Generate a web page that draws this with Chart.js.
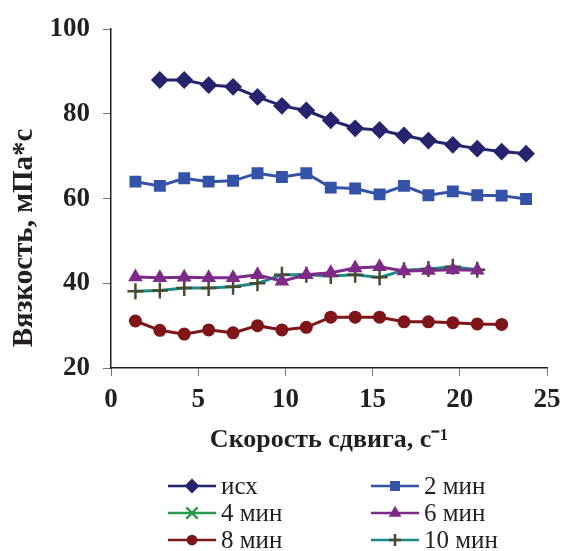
<!DOCTYPE html>
<html>
<head>
<meta charset="utf-8">
<script src="https://cdn.jsdelivr.net/npm/chart.js@4"></script>
<style>
  body { margin: 0; background: #fff; }
  #wrap { width: 562px; height: 551px; }
</style>
</head>
<body>
<div id="wrap"><canvas id="myChart" width="562" height="551"></canvas></div>
<script>
// shear rate, 1/s
var shear = [1.4, 2.8, 4.2, 5.6, 7.0, 8.4, 9.8, 11.2, 12.6, 14.0, 15.4, 16.8, 18.2, 19.6, 21.0, 22.4, 23.8];

var isx   = [null, 88, 88, 86.8, 86.4, 84, 81.9, 80.8, 78.5, 76.6, 76.2, 74.9, 73.7, 72.7, 71.8, 71.1, 70.6];
var min2  = [64, 63, 64.8, 64, 64.2, 66, 65.1, 66, 62.6, 62.4, 61, 63, 60.8, 61.7, 60.8, 60.7, 59.9];
var min4  = [];
var min6  = [41.5, 41.3, 41.4, 41.3, 41.3, 42, 40.5, 42, 42.5, 43.6, 43.9, 42.9, 43, 43.2, 43.1];
var min8  = [31.1, 28.9, 28, 29, 28.3, 30, 29, 29.6, 32, 32, 32, 30.9, 30.9, 30.7, 30.4, 30.3];
var min10 = [38.1, 38.3, 38.9, 38.9, 39.2, 40, 42, 42, 41.7, 42, 41.4, 43.1, 43.4, 43.9, 43.2];

var xTicks = [0, 5, 10, 15, 20, 25];
var yTicks = [20, 40, 60, 80, 100];

function pts(vals) {
    var out = [];
    for (var i = 0; i < vals.length; i++) {
        if (vals[i] !== null) out.push({x: shear[i], y: vals[i]});
    }
    return out;
}

var serif = "'Liberation Serif', 'Times New Roman', serif";

var data = {
    datasets: [
        {label: 'исх', data: pts(isx), borderColor: '#25246e', backgroundColor: '#25246e',
         pointStyle: 'rectRot', pointRadius: 7.5},
        {label: '2 мин', data: pts(min2), borderColor: '#3452a8', backgroundColor: '#3452a8',
         pointStyle: 'rect', pointRadius: 7},
        {label: '4 мин', data: pts(min4), borderColor: '#2a9a50', backgroundColor: '#2a9a50',
         pointStyle: 'crossRot', pointRadius: 7},
        {label: '6 мин', data: pts(min6), borderColor: '#7d2a88', backgroundColor: '#7d2a88',
         pointStyle: 'triangle', pointRadius: 6.5},
        {label: '8 мин', data: pts(min8), borderColor: '#7f1518', backgroundColor: '#7f1518',
         pointStyle: 'circle', pointRadius: 5.5},
        {label: '10 мин', data: pts(min10), borderColor: '#1b8a8a', backgroundColor: '#4a4a30',
         pointBorderColor: '#4a4a30', pointStyle: 'cross', pointRadius: 8, pointBorderWidth: 2.5}
    ]
};

// legend in two columns + shifted y title
var extras = {
    id: 'extras',
    afterDraw: function(chart) {
        var ctx = chart.ctx;
        ctx.save();
        // y axis title
        ctx.translate(25, 238);
        ctx.rotate(-Math.PI / 2);
        ctx.font = 'bold 29px ' + serif;
        ctx.fillStyle = '#231f20';
        ctx.textAlign = 'center';
        ctx.textBaseline = 'middle';
        ctx.fillText('Вязкость, мПа*с', 0, 0);
        ctx.restore();

        var cols = [168, 371];
        var rows = [486, 513, 540];
        chart.data.datasets.forEach(function(ds, i) {
            var x = cols[i % 2], y = rows[Math.floor(i / 2)];
            var r = ds.pointStyle === 'crossRot' ? 8 : ds.pointRadius * 0.75;
            ctx.save();
            ctx.strokeStyle = ds.borderColor;
            ctx.lineWidth = 2.5;
            ctx.beginPath();
            ctx.moveTo(x, y);
            ctx.lineTo(x + 48, y);
            ctx.stroke();
            ctx.fillStyle = ds.pointBorderColor || ds.backgroundColor;
            ctx.strokeStyle = ds.pointBorderColor || ds.backgroundColor;
            Chart.helpers.drawPoint(ctx, {
                pointStyle: ds.pointStyle, radius: r,
                rotation: 0, borderWidth: 2
            }, x + 24, y);
            ctx.font = '25px ' + serif;
            ctx.fillStyle = '#231f20';
            ctx.textAlign = 'left';
            ctx.textBaseline = 'middle';
            ctx.fillText(ds.label, x + 53, y + 1);
            ctx.restore();
        });
    }
};

var options = {
    responsive: false,
    animation: false,
    layout: {padding: {top: 22, right: 15, bottom: 95, left: 0}},
    elements: {
        line: {borderWidth: 3, tension: 0},
        point: {borderWidth: 2}
    },
    plugins: {legend: {display: false}, tooltip: {enabled: false}},
    scales: {
        x: {
            type: 'linear', min: 0, max: 25,
            afterBuildTicks: function(s) { s.ticks = xTicks.map(function(v) { return {value: v}; }); },
            afterFit: function(s) { s.height = 88; s.paddingRight = 0; s.paddingLeft = 0; },
            border: {color: '#231f20', width: 1.5},
            grid: {drawOnChartArea: false, tickLength: 8, color: '#777'},
            ticks: {color: '#231f20', padding: 8, maxRotation: 0,
                    font: {family: serif, size: 27, weight: 'bold'}},
            title: {display: true, text: 'Скорость сдвига, с⁻¹', color: '#231f20',
                    padding: {top: 0, bottom: 0},
                    font: {family: serif, size: 26, weight: 'bold'}}
        },
        y: {
            min: 20, max: 100,
            afterBuildTicks: function(s) { s.ticks = yTicks.map(function(v) { return {value: v}; }); },
            afterFit: function(s) { s.width = 111; },
            border: {color: '#231f20', width: 1.5},
            grid: {drawOnChartArea: false, tickLength: 8, color: '#777'},
            ticks: {color: '#231f20', padding: 13,
                    font: {family: serif, size: 27, weight: 'bold'}}
        }
    }
};

var ctx = document.getElementById('myChart').getContext('2d');

var myChart = new Chart(ctx, {
    type: 'line',
    data: data,
    options: options,
    plugins: [extras]
});
</script>
</body>
</html>
